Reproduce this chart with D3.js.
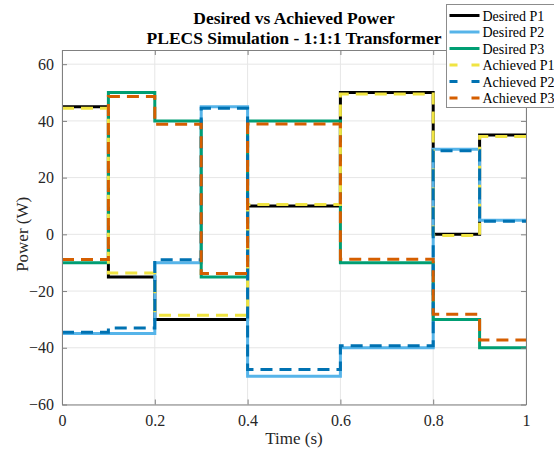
<!DOCTYPE html>
<html lang="en">
<head>
    <meta charset="UTF-8">
    <title>Desired vs Achieved Power</title>
    <script src="https://d3js.org/d3.v7.min.js"></script>
    <style>
        html, body {
            margin: 0;
            background: #fff;
        }
    </style>
</head>
<body>
    <div id="vis"></div>

    <script>

        // step start times (each step lasts 0.1 s)
        var times = [0, 0.1, 0.2, 0.3, 0.4, 0.5, 0.6, 0.7, 0.8, 0.9];
        var tEnd = 1;

        var desiredP1  = [45, -15, -30, -30, 10, 10, 50, 50, 0, 35];
        var desiredP2  = [-35, -35, -10, 45, -50, -50, -40, -40, 30, 5];
        var desiredP3  = [-10, 50, 40, -15, 40, 40, -10, -10, -30, -40];
        var achievedP1 = [44.5, -13.6, -28.5, -28.5, 10.5, 10.5, 49.5, 49.5, -0.4, 34.5];
        var achievedP2 = [-34.5, -33, -9, 44.5, -47.7, -47.7, -39.3, -39.3, 29.5, 4.6];
        var achievedP3 = [-8.9, 48.6, 38.8, -13.8, 38.9, 38.9, -8.8, -8.8, -28.2, -37.3];

        var xTicks = [0, 0.2, 0.4, 0.6, 0.8, 1];
        var yTicks = [-60, -40, -20, 0, 20, 40, 60];

        var series = [
            {name: "Desired P1",  values: desiredP1,  color: "#000000", dash: null},
            {name: "Desired P2",  values: desiredP2,  color: "#56B4E9", dash: null},
            {name: "Desired P3",  values: desiredP3,  color: "#009E73", dash: null},
            {name: "Achieved P1", values: achievedP1, color: "#F0E442", dash: "12,7"},
            {name: "Achieved P2", values: achievedP2, color: "#0072B2", dash: "12,7"},
            {name: "Achieved P3", values: achievedP3, color: "#D55E00", dash: "12,7"}
        ];

        var FONT = "'Liberation Serif', 'Times New Roman', Times, serif";
        var W = 554, H = 452;
        var margin = {top: 50, right: 28, bottom: 47.5, left: 62};
        var width = W - margin.left - margin.right;
        var height = H - margin.top - margin.bottom;

        var svg = d3.select("#vis").append("svg")
            .attr("width", W)
            .attr("height", H)
            .attr("font-family", FONT);

        var g = svg.append("g")
            .attr("transform", "translate(" + margin.left + "," + margin.top + ")");

        var x = d3.scaleLinear().domain([0, 1]).range([0, width]);
        var y = d3.scaleLinear().domain([-60, 65]).range([height, 0]);

        // grid
        g.append("g").selectAll("line").data(xTicks).join("line")
            .attr("x1", d => x(d)).attr("x2", d => x(d))
            .attr("y1", 0).attr("y2", height)
            .attr("stroke", "#e6e6e6").attr("stroke-width", 1);
        g.append("g").selectAll("line").data(yTicks).join("line")
            .attr("x1", 0).attr("x2", width)
            .attr("y1", d => y(d)).attr("y2", d => y(d))
            .attr("stroke", "#e6e6e6").attr("stroke-width", 1);

        // step lines
        var line = d3.line()
            .x(d => x(d[0]))
            .y(d => y(d[1]))
            .curve(d3.curveStepAfter);

        series.forEach(function(s) {
            var pts = times.map((t, i) => [t, s.values[i]]);
            pts.push([tEnd, s.values[s.values.length - 1]]);
            g.append("path")
                .datum(pts)
                .attr("fill", "none")
                .attr("stroke", s.color)
                .attr("stroke-width", 3)
                .attr("stroke-dasharray", s.dash)
                .attr("d", line);
        });

        // axes (MATLAB style: ticks inside, box)
        var axisColor = "#808080";
        var xb = g.append("g").attr("transform", "translate(0," + height + ")")
            .call(d3.axisBottom(x).tickValues(xTicks).tickFormat(d3.format("")).tickSizeInner(-5).tickSizeOuter(0).tickPadding(10));
        var yl = g.append("g")
            .call(d3.axisLeft(y).tickValues(yTicks).tickSizeInner(-5).tickSizeOuter(0).tickPadding(8));
        var xt = g.append("g")
            .call(d3.axisTop(x).tickValues(xTicks).tickFormat("").tickSizeInner(-5).tickSizeOuter(0));
        var yr = g.append("g").attr("transform", "translate(" + width + ",0)")
            .call(d3.axisRight(y).tickValues(yTicks).tickFormat("").tickSizeInner(-5).tickSizeOuter(0));

        [xb, yl, xt, yr].forEach(function(a) {
            a.attr("font-family", FONT);
            a.select(".domain").attr("stroke", axisColor);
            a.selectAll(".tick line").attr("stroke", axisColor);
            a.selectAll(".tick text").style("font-size", "16px").attr("fill", "#262626");
        });

        // titles
        svg.append("text")
            .attr("x", margin.left + width / 2).attr("y", 24)
            .attr("text-anchor", "middle")
            .attr("fill", "#000")
            .style("font-size", "17.5px").style("font-weight", "bold")
            .text("Desired vs Achieved Power");
        svg.append("text")
            .attr("x", margin.left + width / 2).attr("y", 43.5)
            .attr("text-anchor", "middle")
            .attr("fill", "#000")
            .style("font-size", "17.5px").style("font-weight", "bold")
            .text("PLECS Simulation - 1:1:1 Transformer");

        svg.append("text")
            .attr("x", margin.left + width / 2).attr("y", 444)
            .attr("text-anchor", "middle")
            .attr("fill", "#262626")
            .style("font-size", "17px")
            .text("Time (s)");
        svg.append("text")
            .attr("transform", "translate(28," + (margin.top + y(0)) + ") rotate(-90)")
            .attr("text-anchor", "middle")
            .attr("fill", "#262626")
            .style("font-size", "17px")
            .text("Power (W)");

        // legend
        var leg = svg.append("g").attr("transform", "translate(446.5,4.5)");
        leg.append("rect")
            .attr("width", 112).attr("height", 103)
            .attr("fill", "#fff").attr("stroke", "#8c8c8c").attr("stroke-width", 1);
        series.forEach(function(s, i) {
            var yy = 11 + i * 16.5;
            leg.append("line")
                .attr("x1", 3).attr("x2", 33)
                .attr("y1", yy).attr("y2", yy)
                .attr("stroke", s.color).attr("stroke-width", 3)
                .attr("stroke-dasharray", s.dash ? "8,14" : null);
            leg.append("text")
                .attr("x", 36).attr("y", yy + 5)
                .attr("fill", "#000")
                .style("font-size", "14px")
                .text(s.name);
        });

    </script>
</body>
</html>
